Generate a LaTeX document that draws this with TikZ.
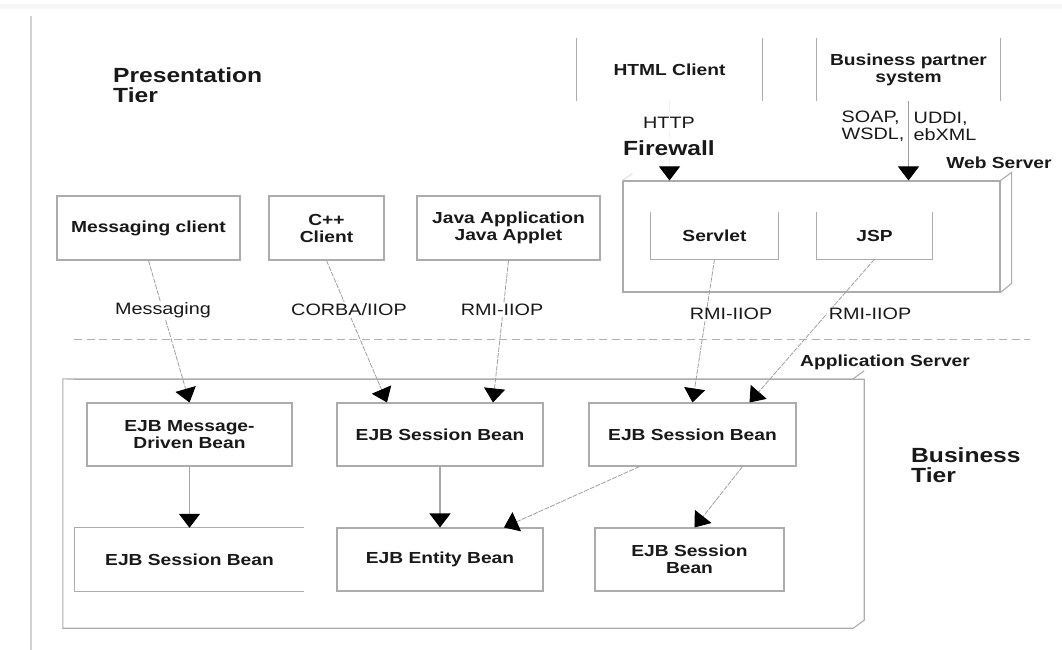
\documentclass[tikz,border=0pt]{standalone}
\usepackage{fontspec}
\setmainfont{Liberation Sans}[FakeStretch=1.2]
\usetikzlibrary{arrows.meta,calc}

\tikzset{
  frame/.style={draw=gray!65, line width=1.1pt},
  lbl/.style={inner sep=0pt, text=black!90, align=center,
    font=\fontsize{16}{17}\selectfont\bfseries},
  unit/.style={lbl, frame},
  title/.style={inner sep=0pt, text=black!90, align=left,
    font=\fontsize{20.5}{20.5}\selectfont\bfseries},
  proto/.style={inner sep=1.5pt, fill=white, text=black!90, align=left,
    font=\fontsize{16.5}{17}\selectfont},
  tip/.style={-{Triangle[width=21pt,length=14pt,color=black]}},
  link/.style={tip, draw=gray!75, line width=0.8pt, dash pattern=on 5pt off 1.2pt},
  flow/.style={tip, draw=gray!70, line width=1.1pt},
  tierline/.style={draw=gray!60, line width=1pt, dash pattern=on 8pt off 4.5pt}
}

\begin{document}
\begin{tikzpicture}[x=1pt,y=-1pt]
\useasboundingbox (0,0) rectangle (1062,650);

% page frame
\fill[gray!7] (0,4) rectangle (1062,9);
\draw[gray!35, line width=2pt] (31,16) -- (31,650);

% tier captions
\node[title, anchor=north west] (ptier) at (113,67) {Presentation\\Tier};
\node[title, anchor=north west] (btier) at (911,447) {Business\\Tier};

% external clients (open sided)
\node[lbl, minimum width=185pt, minimum height=63pt] (html) at (669.5,69.5) {HTML Client};
\draw[frame] (html.north west) -- (html.south west) (html.north east) -- (html.south east);
\node[lbl, minimum width=183pt, minimum height=63pt] (bp) at (908.5,69.5) {Business partner\\system};
\draw[frame] (bp.north west) -- (bp.south west) (bp.north east) -- (bp.south east);

% client applications
\node[unit, minimum width=183pt, minimum height=64pt] (msg) at (148.5,228) {Messaging client};
\node[unit, minimum width=115pt, minimum height=64pt] (cpp) at (326.5,228) {C++\\Client};
\node[unit, minimum width=183pt, minimum height=64pt] (java) at (508.5,228) {Java Application\\Java Applet};

% web server (3D box)
\node[frame, minimum width=377pt, minimum height=111pt, inner sep=0pt] (web) at (811.5,236.5) {};
\draw[frame] (web.north east) -- ++(11,-8) -- ++(0,111) -- (web.south east);
\draw[draw=gray!30, line width=0.8pt] (web.north west) -- ++(10,-7);
\node[lbl] (wslbl) at (999,163) {Web Server};

\node[lbl, minimum width=127pt, minimum height=47pt] (servlet) at (714.5,235.5) {Servlet};
\draw[frame] (servlet.north west) -- (servlet.south west) -- (servlet.south east) -- (servlet.north east);
\node[lbl, minimum width=115pt, minimum height=47pt] (jsp) at (874.5,235.5) {JSP};
\draw[frame] (jsp.north west) -- (jsp.south west) -- (jsp.south east) -- (jsp.north east);

% tier separator
\draw[tierline] (74,339) -- (1030,339);

% application server (3D box)
\node[inner sep=0pt, minimum width=790pt, minimum height=249pt] (app) at (458,503.5) {};
\draw[frame] (app.north east) -- (app.north west) -- (app.south west) -- (app.south east)
  -- ++(11,-8) -- ++(0,-241) -- ++(-790,0) -- (app.north west);
\draw[frame] (app.north east) -- ++(11,-8);
\node[lbl] (aslbl) at (885,362) {Application Server};

% enterprise beans
\node[unit, minimum width=205pt, minimum height=63pt] (mdb) at (189.5,434.5) {EJB Message-\\Driven Bean};
\node[unit, minimum width=206pt, minimum height=63pt] (sb1) at (440,434.5) {EJB Session Bean};
\node[unit, minimum width=207pt, minimum height=63pt] (sb2) at (692.5,434.5) {EJB Session Bean};
\node[lbl, minimum width=229pt, minimum height=63pt] (sb3) at (189.5,559.5) {EJB Session Bean};
\draw[frame] (sb3.north east) -- (sb3.north west) -- (sb3.south west) -- (sb3.south east);
\node[unit, minimum width=206pt, minimum height=63pt] (ent) at (440,559.5) {EJB Entity Bean};
\node[unit, minimum width=189pt, minimum height=63pt] (sb4) at (689.5,559.5) {EJB Session\\Bean};

% web tier inputs
\draw[link, draw=gray!12] (html.south) -- (html.south |- web.north);
\draw[tip, draw=gray!75, line width=1pt] (bp.south) -- (bp.south |- web.north);
\node[proto] (http) at (669,123) {HTTP};
\node[title, fill=white, inner sep=1pt] (fw) at (669,148) {Firewall};
\node[proto, anchor=west] (soap) at (840,126.5) {SOAP,\\WSDL,};
\node[proto, anchor=west] (uddi) at (912,126.5) {UDDI,\\ebXML};

% client to bean connectors
\draw[link] (msg.south) -- (mdb.north);
\draw[link] (cpp.south) -- ([xshift=-53pt]sb1.north);
\draw[link] (java.south) -- ([xshift=53pt]sb1.north);
\draw[link] (servlet.south) -- (sb2.north);
\draw[link] (jsp.south) -- ([xshift=57pt]sb2.north);

\node[proto] (l1) at (163,310) {Messaging};
\node[proto] (l2) at (349,310) {CORBA/IIOP};
\node[proto] (l3) at (502,310) {RMI-IIOP};
\node[proto] (l4) at (731,314) {RMI-IIOP};
\node[proto] (l5) at (870,314) {RMI-IIOP};

% bean to bean connectors
\draw[flow] (mdb.south) -- (sb3.north);
\draw[flow] (sb1.south) -- (ent.north);
\draw[link] ([xshift=-53pt]sb2.south) -- ([xshift=64pt]ent.north);
\draw[link] ([xshift=50pt]sb2.south) -- ([xshift=5pt]sb4.north);
\end{tikzpicture}
\end{document}
